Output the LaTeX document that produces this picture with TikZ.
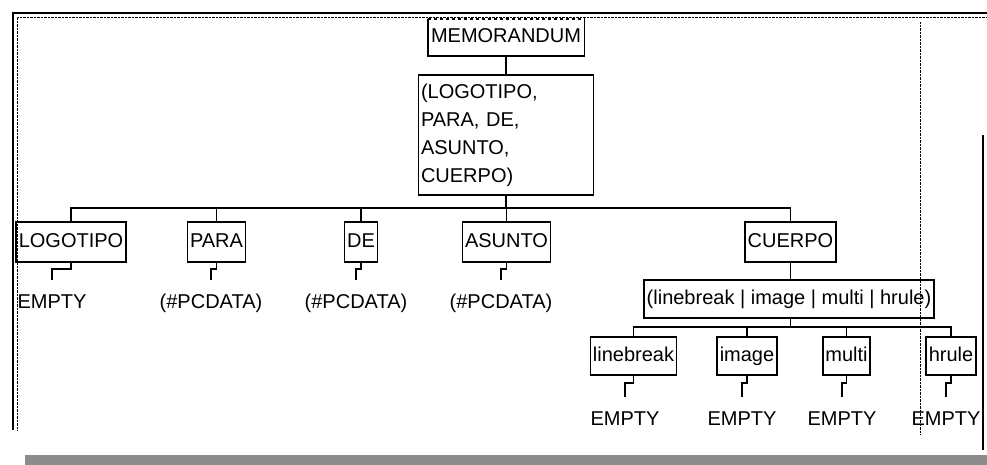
\documentclass[tikz,border=0pt]{standalone}
\usepackage{fontspec}
\setmainfont{Liberation Sans}
\usepackage{tikz}
\definecolor{scanGray}{RGB}{140,140,140}

\begin{document}
\begin{tikzpicture}[x=1pt, y=-1pt,
    box/.style={draw, line width=1.6pt, inner sep=2.5pt, text height=14pt, text depth=4pt, minimum height=40pt, font=\fontsize{20}{22}\selectfont},
    leaf/.style={inner sep=0pt, text height=14pt, text depth=0pt, anchor=base, font=\fontsize{20}{22}\selectfont},
    link/.style={line width=1.6pt},
    stub/.style={line width=1.6pt, shorten >=14pt}]
  \useasboundingbox (0,0) rectangle (987,465);
  % window frame
  \draw[line width=1.8pt] (13,430) -- (13,13) -- (987,13);
  \draw[densely dotted] (17,430) -- (17,17) -- (987,17);
  \draw[densely dotted] (920,22) -- (920,435);
  \draw[line width=1.8pt] (983,135) -- (983,450);
  \fill[scanGray] (25,455) rectangle (987,465);

  % root and its content model
  \node[box, draw=none, minimum height=35pt] (memo) at (506,37.5) {MEMORANDUM};
  \draw[link] (memo.north west) -- (memo.south west) -- (memo.south east) -- (memo.north east);
  \draw[link, dashed] (memo.north west) -- (memo.north east);
  \node[box, text height=, text depth=, text width=170pt, align=left, minimum height=120pt, font=\fontsize{20}{28}\selectfont] (seq) at (506,135)
    {(LOGOTIPO,\\PARA, DE,\\ASUNTO,\\CUERPO)};
  \draw[link] (memo.south) -- (seq.north);

  % first level
  \node[box] (logo) at (71,242) {LOGOTIPO};
  \node[box] (para) at (216.5,242) {PARA};
  \node[box] (de) at (361,242) {DE};
  \node[box] (asunto) at (506.5,242) {ASUNTO};
  \node[box] (cuerpo) at (790.5,242) {CUERPO};
  \foreach \k in {logo,para,de,asunto,cuerpo}
    \draw[link] (seq.south) -- ++(0,12) -| (\k.north);

  \node[leaf] (logo-e) at (52,308) {EMPTY};
  \node[leaf] (para-e) at (211,308) {(\#PCDATA)};
  \node[leaf] (de-e) at (356,308) {(\#PCDATA)};
  \node[leaf] (asunto-e) at (501,308) {(\#PCDATA)};
  \foreach \k in {logo,para,de,asunto}
    \draw[stub] (\k.south) -- ++(0,6) -| (\k-e.north);

  % CUERPO choice
  \node[box, minimum height=38pt] (choice) at (789,299) {(linebreak | image | multi | hrule)};
  \draw[link] (cuerpo.south) -- (cuerpo.south |- choice.north);

  \node[box, minimum height=38pt] (lbreak) at (633.5,356) {linebreak};
  \node[box, minimum height=38pt] (image) at (747,356) {image};
  \node[box, minimum height=38pt] (multi) at (846.5,356) {multi};
  \node[box, minimum height=38pt] (hrule) at (951,356) {hrule};
  \foreach \k in {lbreak,image,multi,hrule}
    \draw[link] (cuerpo.south |- choice.south) -- ++(0,8) -| (\k.north);

  \node[leaf] (lbreak-e) at (625,425) {EMPTY};
  \node[leaf] (image-e) at (742,425) {EMPTY};
  \node[leaf] (multi-e) at (842,425) {EMPTY};
  \node[leaf] (hrule-e) at (946,425) {EMPTY};
  \foreach \k in {lbreak,image,multi,hrule}
    \draw[stub] (\k.south) -- ++(0,7) -| (\k-e.north);
\end{tikzpicture}
\end{document}
